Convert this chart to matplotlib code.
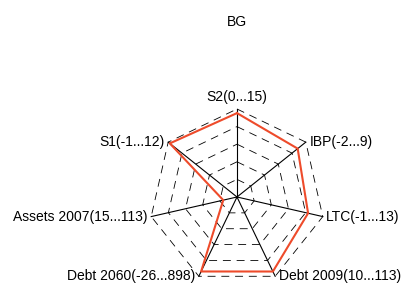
import numpy as np
import matplotlib
matplotlib.use("Agg")
import matplotlib.pyplot as plt

# axis names, ranges (min, max) and the plotted values
names = ["S2", "IBP", "LTC", "Debt 2009", "Debt 2060", "Assets 2007", "S1"]
mins = [0, -2, -1, 10, -26, 15, -1]
maxs = [15, 9, 13, 113, 898, 113, 12]
values = [14.3, 7.7, 10.6, 106.8, 842.0, 30.7, 11.7]
title = "BG"

plt.rcParams['font.family'] = ['Liberation Sans', 'DejaVu Sans']

n = len(names)
ang = np.pi / 2 - np.arange(n) * 2 * np.pi / n
norm = [(v - lo) / (hi - lo) for v, lo, hi in zip(values, mins, maxs)]

fig = plt.figure(figsize=(4.01, 2.84), dpi=100)
ax = fig.add_axes([0, 0, 1, 1])
R = 88.0
cx, cy = 237.0, 197.0
ax.set_xlim(-cx / R, (401 - cx) / R)
ax.set_ylim(-(284 - cy) / R, cy / R)
ax.axis("off")

# dashed grid polygons
for lev in [0.2, 0.4, 0.6, 0.8, 1.0]:
    xs = np.append(lev * np.cos(ang), lev * np.cos(ang[0]))
    ys = np.append(lev * np.sin(ang), lev * np.sin(ang[0]))
    ax.plot(xs, ys, color="black", lw=0.6, ls=(0, (9.5, 7)))

# spokes
for a in ang:
    ax.plot([0, np.cos(a)], [0, np.sin(a)], color="black", lw=0.8)

# data line
px = [r * np.cos(a) for r, a in zip(norm, ang)]
py = [r * np.sin(a) for r, a in zip(norm, ang)]
ax.plot(px + px[:1], py + py[:1], color="#EE4B2B", lw=1.5)

for nm, lo, hi, a in zip(names, mins, maxs, ang):
    lab = "%s(%g...%g)" % (nm, lo, hi)
    c, s = np.cos(a), np.sin(a)
    if abs(c) < 0.01:
        ax.text(0, 1.06, lab, ha="center", va="bottom", fontsize=10)
    else:
        ha = "left" if c > 0 else "right"
        ax.text(c + 0.04 * np.sign(c), s, lab, ha=ha, va="center", fontsize=10)

ax.text(0, (cy - 22) / R, title, ha="center", va="center", fontsize=10)

fig.savefig("out.png", dpi=100)
